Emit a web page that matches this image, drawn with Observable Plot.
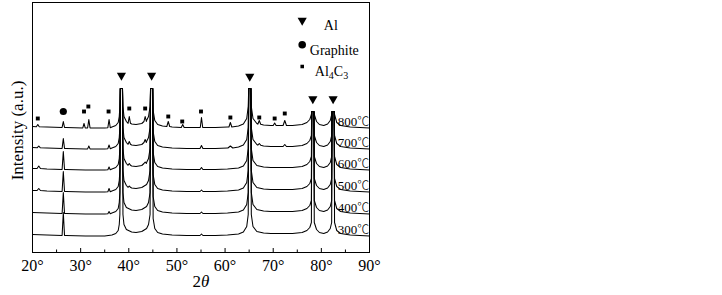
<!DOCTYPE html>
<html><head><meta charset="utf-8">
<script src="https://cdn.jsdelivr.net/npm/d3@7"></script>
<script src="https://cdn.jsdelivr.net/npm/@observablehq/plot@0.6"></script>
<style>body{margin:0;background:#fff}</style>
</head><body><div id="chart"></div>
<script>
// ---- data ----
const temps = ["300℃", "400℃", "500℃", "600℃", "700℃", "800℃"];
const offsets = [16, 38, 60, 82, 103, 124];           // stacking offset of each pattern (a.u.)

// shared background + Al reflection skirts, relative to each pattern's baseline: [2θ, I]
const background = [
  [20, 2], [23, 1.5], [27, 1.1], [31, 0.6], [35, 0.6], [36.5, 1.5], [37.3, 3], [37.8, 6], [38.02, 12], [38.15, 22],
  [38.79, 22], [39.0, 12], [39.5, 7], [40.6, 4.5], [41.5, 4], [42.7, 5], [43.7, 8], [44.1, 12], [44.42, 22],
  [45.06, 18], [45.4, 8], [46.0, 4], [47.0, 2.5], [49.0, 1.5], [52, 1], [58, 1], [60.5, 1.5], [62.8, 2.5], [63.8, 4.5], [64.5, 10], [64.81, 22],
  [65.45, 22], [65.8, 10], [66.6, 5], [68, 3.5], [69.5, 3], [74, 3], [76, 4], [77.0, 6], [77.6, 9], [77.93, 14],
  [78.53, 14], [79.0, 7], [79.6, 4], [80.5, 3], [81.3, 4.5], [81.85, 8], [82.14, 14],
  [82.74, 14], [83.2, 6], [84, 3], [86, 1.5], [90, 0.5]
];

// Al reflections (off-scale, cut at the drawn height)
const alPeaks = [38.47, 44.74, 65.13, 78.23, 82.44];
const alCaps = [164, 164, 164, 141, 141];
const alTopHalfWidth = 0.22;

// minor reflections per pattern: [2θ, base, top, half width]
const peaks300 = [[26.4, 1.1, 24, 0.25], [55.1, 1, 2.5, 0.3]];
const peaks400 = [[26.4, 1.1, 22, 0.25], [35.9, 0.8, 3, 0.25], [55.1, 1, 2.5, 0.3]];
const peaks500 = [[21.3, 2, 4, 0.35], [26.4, 1.1, 21, 0.25], [35.9, 0.8, 4, 0.25], [40.1, 5.2, 6.5, 0.25], [55.1, 1, 2.5, 0.3]];
const peaks600 = [[21.3, 2, 4.5, 0.35], [26.4, 1.1, 19, 0.25], [35.9, 0.8, 3.5, 0.25], [40.1, 5.2, 7, 0.25], [43.4, 7, 8.5, 0.25], [55.1, 1, 3, 0.3]];
const peaks700 = [[21.3, 1.8, 3.5, 0.3], [26.4, 1.1, 11, 0.25], [31.7, 0.6, 3.5, 0.25], [35.9, 0.8, 4.5, 0.25], [40.1, 5.2, 8, 0.25], [43.4, 7, 10, 0.25], [55.1, 1, 4, 0.3], [61.1, 1.5, 3.5, 0.5], [67.1, 4.3, 6, 0.3], [72.4, 3, 5, 0.35]];
const peaks800 = [[21.1, 1.8, 4, 0.3], [26.4, 1.1, 7, 0.25], [30.7, 0.6, 5, 0.25], [31.7, 0.6, 9, 0.25], [35.9, 0.8, 9, 0.25], [40.1, 5.2, 12, 0.25], [43.4, 7, 12, 0.25], [48.2, 2, 7, 0.3], [51.2, 1, 4, 0.3], [55.1, 1, 11, 0.25], [61.1, 1.5, 6, 0.3], [67.1, 4.3, 8, 0.3], [70.3, 3, 5.5, 0.3], [72.4, 3, 8, 0.35]];
const minorPeaks = [peaks300, peaks400, peaks500, peaks600, peaks700, peaks800];

// phase markers
const alMarkAngles = [38.47, 44.74, 65.13, 78.23, 82.44];
const alMarkHeights = [177, 177, 176, 153.5, 153.5];
const graphiteAngles = [26.4];
const graphiteHeights = [141];
const carbideAngles = [21.1, 30.7, 31.6, 35.8, 40.1, 43.4, 48.2, 51.1, 55.0, 61.1, 67.1, 70.3, 72.4];
const carbideHeights = [134, 141, 146, 141, 144, 144, 136, 131, 141, 135, 135, 134, 139];

const majorTicks = [20, 30, 40, 50, 60, 70, 80, 90];
const minorTicks = [25, 35, 45, 55, 65, 75, 85];

// ---- build table ----
const rows = [];
temps.forEach((temp, i) => {
  const off = offsets[i];
  const pts = background.map(([a, v]) => [a, off + v]);
  for (const [p, b, top, hw] of minorPeaks[i]) pts.push([p - hw, off + b], [p, off + top], [p + hw, off + b]);
  alPeaks.forEach((p, k) => pts.push([p - alTopHalfWidth, alCaps[k]], [p + alTopHalfWidth, alCaps[k]]));
  pts.sort((a, b) => a[0] - b[0]);
  for (const [angle, intensity] of pts) rows.push({temp, angle, intensity});
});
const idx = arr => arr.map((_, i) => i);

const FONT = "'Liberation Serif', 'Times New Roman', 'DejaVu Serif', serif";

const chart = Plot.plot({
  width: 722, height: 295,
  marginLeft: 32, marginRight: 353, marginTop: 2, marginBottom: 43,
  style: {fontFamily: FONT, fontSize: "13px", background: "white", color: "black", overflow: "visible"},
  x: {domain: [20, 90]},
  y: {domain: [0, 250], axis: null},
  marks: [
    Plot.line(rows, {x: "angle", y: "intensity", z: "temp", stroke: "black", strokeWidth: 1.05}),
    Plot.frame({stroke: "black", strokeWidth: 1}),
    Plot.axisX({ticks: majorTicks, tickSize: -4, tickFormat: () => "", label: null, strokeWidth: 1}),
    Plot.axisX({ticks: minorTicks, tickSize: -2.5, tickFormat: () => "", label: null, strokeWidth: 1}),
    Plot.axisX({ticks: majorTicks, tickSize: 0, tickPadding: 7, tickFormat: d => d + "°", fontSize: 16, label: null}),
    // phase markers
    Plot.dot(idx(alMarkAngles), {x: i => alMarkAngles[i], y: i => alMarkHeights[i], symbol: "triangle", rotate: 180, r: 3.4, fill: "black", stroke: "none"}),
    Plot.dot(idx(graphiteAngles), {x: i => graphiteAngles[i], y: i => graphiteHeights[i], symbol: "circle", r: 3.6, fill: "black", stroke: "none"}),
    Plot.dot(idx(carbideAngles), {x: i => carbideAngles[i], y: i => carbideHeights[i], symbol: "square", r: 2.2, fill: "black", stroke: "none"}),
    // temperature labels
    Plot.text(temps, {y: (d, i) => offsets[i] + 7, frameAnchor: "right", dx: -31.8, textAnchor: "start", text: d => d, fontSize: 13}),
    // legend
    Plot.dot([null], {frameAnchor: "top-right", dx: -67.3, dy: 18, symbol: "triangle", rotate: 180, r: 3.4, fill: "black", stroke: "none"}),
    Plot.dot([null], {frameAnchor: "top-right", dx: -67.3, dy: 42.3, symbol: "circle", r: 3.8, fill: "black", stroke: "none"}),
    Plot.dot([null], {frameAnchor: "top-right", dx: -67.3, dy: 64, symbol: "square", r: 2, fill: "black", stroke: "none"}),
    Plot.text(["Al"], {frameAnchor: "top-right", dx: -45.7, dy: 18, textAnchor: "start", text: d => d, fontSize: 14}),
    Plot.text(["Graphite"], {frameAnchor: "top-right", dx: -59.7, dy: 42.3, textAnchor: "start", text: d => d, fontSize: 14}),
    Plot.text(["Al4C3"], {frameAnchor: "top-right", dx: -54.7, dy: 64, textAnchor: "start", text: d => d, fontSize: 14}),
    // axis titles
    Plot.text(["Intensity (a.u.)"], {frameAnchor: "left", textAnchor: "middle", dx: -15.3, dy: 3, rotate: -90, text: d => d, fontSize: 17}),
    Plot.text(["2θ"], {frameAnchor: "bottom", textAnchor: "middle", dy: 34, text: d => d, fontSize: 17})
  ]
});
document.getElementById("chart").append(chart);

// rich text: subscripts, italic theta, full-width degree Celsius
d3.select(chart).selectAll("text").each(function () {
  const t = d3.select(this);
  const s = this.textContent;
  if (s === "Al4C3") {
    t.text(null);
    t.append("tspan").text("Al");
    t.append("tspan").attr("font-size", "10px").attr("dy", "3").text("4");
    t.append("tspan").attr("dy", "-3").text("C");
    t.append("tspan").attr("font-size", "10px").attr("dy", "3").text("3");
  } else if (s === "2θ") {
    t.text(null);
    t.append("tspan").text("2");
    t.append("tspan").attr("font-style", "italic").text("θ");
  } else if (s.endsWith("℃")) {
    t.text(null);
    t.append("tspan").text(s.slice(0, -1));
    t.append("tspan").attr("font-family", "'Noto Sans CJK SC'").attr("font-weight", "300").attr("font-size", "12px").text("℃");
  }
});
</script>
</body></html>
